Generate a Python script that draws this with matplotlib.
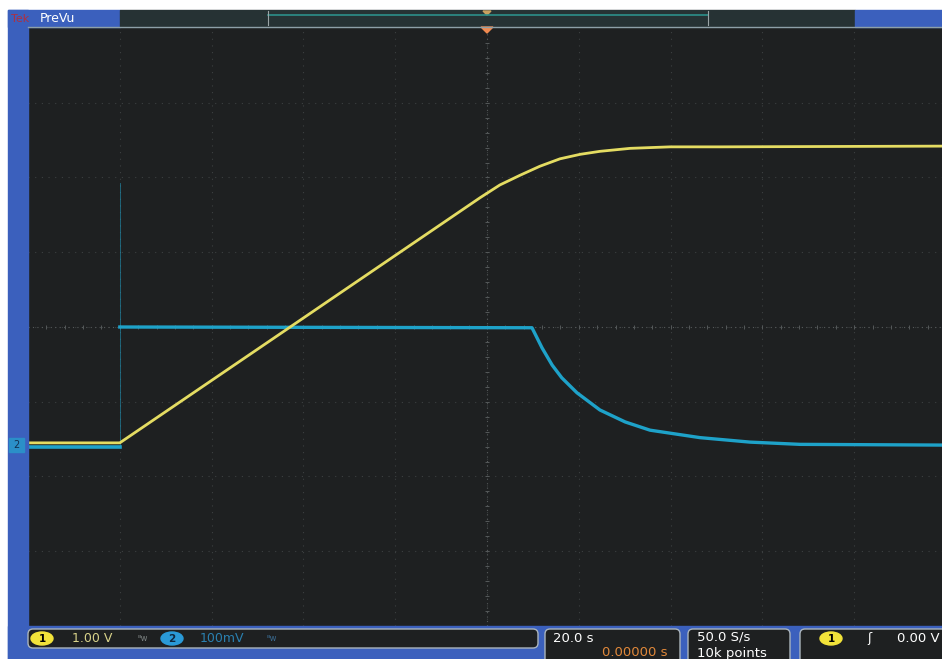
import numpy as np
import matplotlib.pyplot as plt
from matplotlib.patches import Rectangle, FancyBboxPatch, Ellipse, Polygon

# =====================================================
# Waveforms
# time in seconds (20 s/div, trigger at 0), level in screen divisions
# =====================================================
ch1_time = [-100, -80, -43.6, -1.5, 2.8, 7.2, 11.5, 15.9, 20.3, 24.6, 31.2, 39.9, 50.8, 100]
ch1_level = [-1.55, -1.55, -0.03, 1.73, 1.90, 2.03, 2.15, 2.25, 2.31, 2.35, 2.39, 2.41, 2.41, 2.42]

# ch2 before the step (baseline)
ch2_base_time = [-100, -80]
ch2_base_level = [-1.6, -1.6]

# ch2 after the step: flat, then decays back
ch2_time = [-80, 9.8, 12.0, 14.2, 16.3, 19.6, 24.6, 30.1, 35.5, 46.4, 57.3, 68.2, 100]
ch2_level = [0.0, -0.01, -0.28, -0.51, -0.68, -0.88, -1.11, -1.27, -1.38, -1.48, -1.54, -1.57, -1.58]

# fast edge of ch2 at the step (thin line)
ch2_edge_time = [-80, -80]
ch2_edge_level = [-1.6, 1.93]

# readouts
ch1_scale = "1.00 V"
ch2_scale = "100mV"
time_scale = "20.0 s"
trig_pos = "0.00000 s"
sample_rate = "50.0 S/s"
record_len = "10k points"
trig_level = "0.00 V"

# =====================================================
# Figure / colours
# =====================================================
W, H = 942, 659
fig = plt.figure(figsize=(W / 100, H / 100), dpi=100, facecolor="white")

FRAME = "#3b60bd"
SCREEN = "#1e2021"
BAR = "#263234"
YEL = "#e4dc62"
CYN = "#1ea2c9"
GRID = "#3c4041"
CENTRE = "#55595a"

# scope screen: x 28..942 px, y 28..626 px, centre at x=487
px_per_s = 91.8 / 20
ax = fig.add_axes([28 / W, 1 - 626 / H, 914 / W, 598 / H], zorder=1)
ax.set_facecolor(SCREEN)
ax.set_xlim(-100, -100 + 914 / px_per_s)
ax.set_ylim(-4, 4)
ax.set_xticks([])
ax.set_yticks([])
for s in ax.spines.values():
    s.set_visible(False)

# graticule
for t in range(-80, 100, 20):
    ax.axvline(t, color=GRID, lw=0.8, ls=(0, (1, 5)), zorder=1)
for d in range(-3, 4):
    ax.axhline(d, color=GRID, lw=0.8, ls=(0, (1, 5)), zorder=1)
ax.axvline(0, color=CENTRE, lw=0.8, ls=(0, (1, 3)), zorder=1)
ax.axhline(0, color=CENTRE, lw=0.8, ls=(0, (1, 3)), zorder=1)
minor_t = np.arange(-100, 101, 4)
minor_d = np.arange(-4, 4.01, 0.2)
ax.plot(minor_t, np.zeros_like(minor_t), "|", color=CENTRE, ms=3, mew=0.7, zorder=1)
ax.plot(np.zeros_like(minor_d), minor_d, "_", color=CENTRE, ms=3, mew=0.7, zorder=1)

# traces
ax.plot(ch2_edge_time, ch2_edge_level, color=CYN, lw=0.6, alpha=0.6, zorder=2)
ax.plot(ch2_base_time, ch2_base_level, color=CYN, lw=2.6, zorder=3)
ax.plot(ch2_time, ch2_level, color=CYN, lw=2.4, zorder=3, solid_joinstyle="round")
ax.plot(ch1_time, ch1_level, color=YEL, lw=2.0, zorder=4, solid_joinstyle="round")

# =====================================================
# Instrument chrome (pixel coordinates)
# =====================================================
ov = fig.add_axes([0, 0, 1, 1], zorder=2)
ov.set_xlim(0, W)
ov.set_ylim(H, 0)
ov.axis("off")
ov.patch.set_alpha(0)

# frame pieces
ov.add_patch(Rectangle((8, 10), 20, H - 10, color=FRAME))
ov.add_patch(Rectangle((8, 626), W - 8, 33, color=FRAME))
ov.add_patch(Rectangle((8, 10), 112, 17, color=FRAME))
ov.add_patch(Rectangle((120, 10), 735, 17, color=BAR))
ov.add_patch(Rectangle((855, 10), 87, 17, color=FRAME))
ov.plot([28, 942], [27, 27], color="#8da0a8", lw=1)

# record view
ov.plot([268, 708], [15, 15], color="#2d8f8a", lw=1.2)
ov.plot([268, 268], [11, 25], color="#9aa4a6", lw=0.8)
ov.plot([708, 708], [11, 25], color="#9aa4a6", lw=0.8)
ov.add_patch(Polygon([[483, 11], [491, 11], [487, 15]], color="#c8a060"))
ov.add_patch(Polygon([[481, 27], [493, 27], [487, 33]], color="#f08a50"))

ov.text(11, 18.5, "Tek", color="#b03040", fontsize=8, va="center", ha="left")
ov.text(40, 18.5, "PreVu", color="white", fontsize=9, va="center", ha="left")

# channel 2 ground marker
ov.add_patch(Rectangle((9, 438), 15, 14, color="#2b8fc8"))
ov.text(16.5, 445, "2", color="#123050", fontsize=7, ha="center", va="center")

# bottom readout boxes
def box(x0, y0, x1, y1):
    ov.add_patch(FancyBboxPatch((x0, y0), x1 - x0, y1 - y0,
                                boxstyle="round,pad=0,rounding_size=5",
                                fc=SCREEN, ec="#aab4bc", lw=1))

box(28, 629, 538, 648)
box(545, 629, 680, 665)
box(688, 629, 790, 665)
box(800, 629, 950, 665)

ov.add_patch(Ellipse((42, 638.5), 22, 13, color="#f2e33a"))
ov.text(42, 638.5, "1", color="black", fontsize=7.5, ha="center", va="center", weight="bold")
ov.text(72, 638.5, ch1_scale, color="#d9d38a", fontsize=9, ha="left", va="center")
ov.text(143, 638.5, "ᴮw", color="#7a8080", fontsize=6, ha="center", va="center")
ov.add_patch(Ellipse((172, 638.5), 22, 13, color="#2a9ad8"))
ov.text(172, 638.5, "2", color="#102840", fontsize=7.5, ha="center", va="center", weight="bold")
ov.text(200, 638.5, ch2_scale, color="#2a80b0", fontsize=9, ha="left", va="center")
ov.text(272, 638.5, "ᴮw", color="#3a6a90", fontsize=6, ha="center", va="center")

ov.text(553, 638, time_scale, color="white", fontsize=9.5, ha="left", va="center")
ov.text(668, 653, trig_pos, color="#e0883a", fontsize=9.5, ha="right", va="center")

ov.text(697, 637, sample_rate, color="white", fontsize=9.5, ha="left", va="center")
ov.text(697, 653, record_len, color="white", fontsize=9.5, ha="left", va="center")

ov.add_patch(Ellipse((831, 638.5), 22, 13, color="#f2e33a"))
ov.text(831, 638.5, "1", color="black", fontsize=7.5, ha="center", va="center", weight="bold")
ov.text(869, 638.5, "ʃ", color="white", fontsize=9, ha="center", va="center")
ov.text(897, 638.5, trig_level, color="white", fontsize=9.5, ha="left", va="center")

fig.savefig("out.png", dpi=100, facecolor="white")
